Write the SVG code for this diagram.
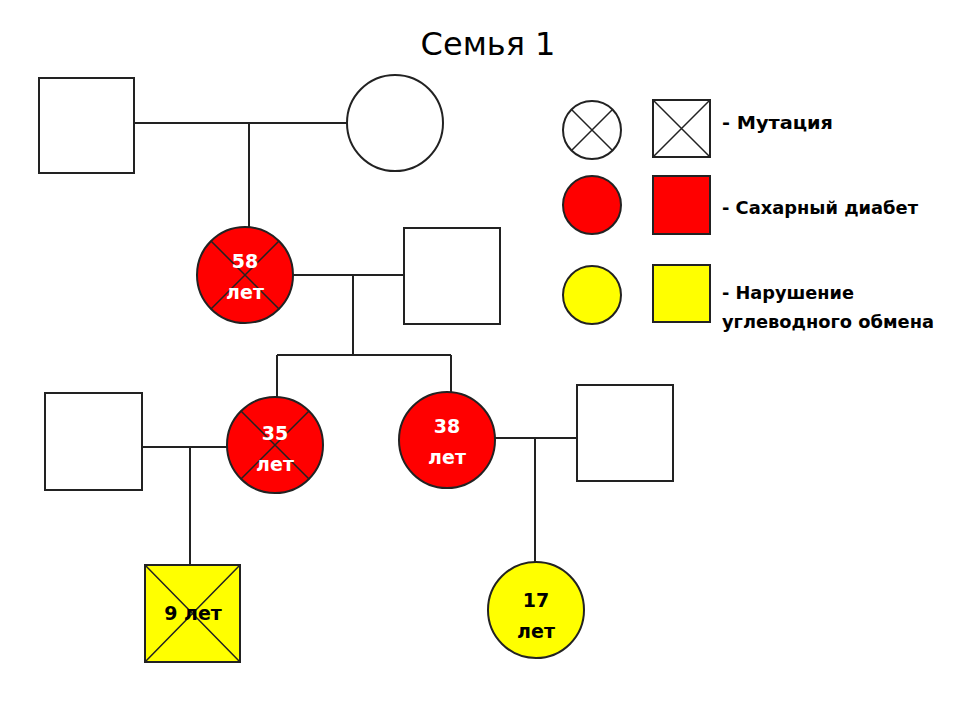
<svg xmlns="http://www.w3.org/2000/svg" width="958" height="726" viewBox="0 0 958 726">
  <style>
    .node { stroke: #222; stroke-width: 2; }
    .plain { fill: #fff; }
    .dm { fill: #ff0000; }
    .cho { fill: #ffff00; }
    .x { stroke: #222; stroke-width: 1.5; fill: none; }
    .link { stroke: #222; stroke-width: 2; fill: none; }
    .age { font-family: "DejaVu Sans", "Liberation Sans", sans-serif; font-weight: bold; font-size: 19px; text-anchor: middle; }
    .agew { fill: #fff; }
    .ageb { fill: #000; }
    .leg { font-family: "DejaVu Sans", "Liberation Sans", sans-serif; font-weight: bold; font-size: 17px; fill: #000; }
    .title { font-family: "DejaVu Sans", "Liberation Sans", sans-serif; font-size: 32px; fill: #000; text-anchor: middle; }
  </style>
  <rect width="958" height="726" fill="#fff"/>

  <text class="title" x="488" y="55">Семья 1</text>

  <!-- connectors -->
  <g id="connectors">
    <path class="link" d="M130 123 H347 M249 123 V228"/>
    <path class="link" d="M293 275 H404 M353 275 V355 M277 355 H451 M277 355 V397 M451 355 V392"/>
    <path class="link" d="M142 447 H227 M190 447 V565"/>
    <path class="link" d="M495 438 H577 M535 438 V562"/>
  </g>

  <!-- generation I -->
  <g id="grandfather"><rect class="node plain" x="39" y="78" width="95" height="95"/></g>
  <g id="grandmother"><circle class="node plain" cx="395" cy="123" r="48"/></g>

  <!-- generation II -->
  <g id="mother58">
    <circle class="node dm" cx="245" cy="275" r="48"/>
    <path class="x" d="M211 241 L279 309 M279 241 L211 309"/>
    <text class="age agew" x="245" y="268">58</text>
    <text class="age agew" x="245" y="299">лет</text>
  </g>
  <g id="father2"><rect class="node plain" x="404" y="228" width="96" height="96"/></g>

  <!-- generation III -->
  <g id="husband35"><rect class="node plain" x="45" y="393" width="97" height="97"/></g>
  <g id="daughter35">
    <circle class="node dm" cx="275" cy="445" r="48"/>
    <path class="x" d="M241 411 L309 479 M309 411 L241 479"/>
    <text class="age agew" x="275" y="440">35</text>
    <text class="age agew" x="275" y="471">лет</text>
  </g>
  <g id="daughter38">
    <circle class="node dm" cx="447" cy="440" r="48"/>
    <text class="age agew" x="447" y="433">38</text>
    <text class="age agew" x="447" y="464">лет</text>
  </g>
  <g id="husband38"><rect class="node plain" x="577" y="385" width="96" height="96"/></g>

  <!-- generation IV -->
  <g id="son9">
    <rect class="node cho" x="145" y="565" width="95" height="97"/>
    <path class="x" d="M145 565 L240 662 M240 565 L145 662"/>
    <text class="age ageb" x="193" y="620">9 лет</text>
  </g>
  <g id="daughter17">
    <circle class="node cho" cx="536" cy="610" r="48"/>
    <text class="age ageb" x="536" y="607">17</text>
    <text class="age ageb" x="536" y="638">лет</text>
  </g>

  <!-- legend -->
  <g id="legend-mutation">
    <circle class="node plain" cx="592" cy="130" r="29" stroke-width="1.5"/>
    <path class="x" d="M571.5 109.5 L612.5 150.5 M612.5 109.5 L571.5 150.5" stroke-width="1"/>
    <rect class="node plain" x="653" y="100" width="57" height="57" stroke-width="1.5"/>
    <path class="x" d="M653 100 L710 157 M710 100 L653 157" stroke-width="1"/>
    <text class="leg" x="722" y="129" textLength="111" lengthAdjust="spacingAndGlyphs">-  Мутация</text>
  </g>
  <g id="legend-diabetes">
    <circle class="node dm" cx="592" cy="205" r="29" stroke-width="1.5"/>
    <rect class="node dm" x="653" y="176" width="57" height="58" stroke-width="1.5"/>
    <text class="leg" x="722" y="214" textLength="196" lengthAdjust="spacingAndGlyphs">- Сахарный диабет</text>
  </g>
  <g id="legend-carb">
    <circle class="node cho" cx="592" cy="295" r="29" stroke-width="1.5"/>
    <rect class="node cho" x="653" y="265" width="57" height="57" stroke-width="1.5"/>
    <text class="leg" x="722" y="299" textLength="132" lengthAdjust="spacingAndGlyphs">- Нарушение</text>
    <text class="leg" x="722" y="328" textLength="212" lengthAdjust="spacingAndGlyphs">углеводного обмена</text>
  </g>
</svg>
